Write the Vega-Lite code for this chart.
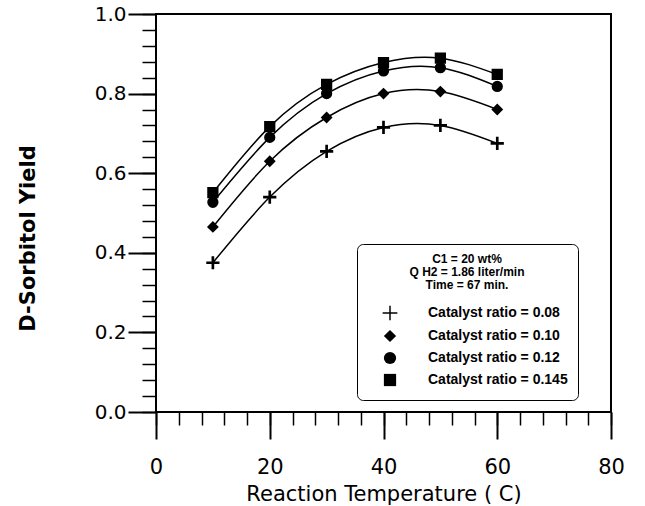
{
  "$schema": "https://vega.github.io/schema/vega-lite/v6.json",
  "width": 455,
  "height": 398,
  "autosize": "none",
  "padding": {"left": 156, "top": 14, "right": 34, "bottom": 94},
  "background": "white",
  "config": {
    "view": {"stroke": "black", "strokeWidth": 2},
    "axis": {"grid": false, "domain": false, "tickColor": "black", "labelColor": "black", "titleColor": "black", "labelFlush": false, "labelOverlap": false}
  },
  "data": {
    "values": [
      {"series": "Catalyst ratio = 0.08", "temp": 10, "yield": 0.375},
      {"series": "Catalyst ratio = 0.08", "temp": 20, "yield": 0.54},
      {"series": "Catalyst ratio = 0.08", "temp": 30, "yield": 0.655},
      {"series": "Catalyst ratio = 0.08", "temp": 40, "yield": 0.715},
      {"series": "Catalyst ratio = 0.08", "temp": 50, "yield": 0.72},
      {"series": "Catalyst ratio = 0.08", "temp": 60, "yield": 0.675},
      {"series": "Catalyst ratio = 0.10", "temp": 10, "yield": 0.465},
      {"series": "Catalyst ratio = 0.10", "temp": 20, "yield": 0.63},
      {"series": "Catalyst ratio = 0.10", "temp": 30, "yield": 0.74},
      {"series": "Catalyst ratio = 0.10", "temp": 40, "yield": 0.80},
      {"series": "Catalyst ratio = 0.10", "temp": 50, "yield": 0.805},
      {"series": "Catalyst ratio = 0.10", "temp": 60, "yield": 0.76},
      {"series": "Catalyst ratio = 0.12", "temp": 10, "yield": 0.527},
      {"series": "Catalyst ratio = 0.12", "temp": 20, "yield": 0.69},
      {"series": "Catalyst ratio = 0.12", "temp": 30, "yield": 0.80},
      {"series": "Catalyst ratio = 0.12", "temp": 40, "yield": 0.857},
      {"series": "Catalyst ratio = 0.12", "temp": 50, "yield": 0.865},
      {"series": "Catalyst ratio = 0.12", "temp": 60, "yield": 0.818},
      {"series": "Catalyst ratio = 0.145", "temp": 10, "yield": 0.551},
      {"series": "Catalyst ratio = 0.145", "temp": 20, "yield": 0.717},
      {"series": "Catalyst ratio = 0.145", "temp": 30, "yield": 0.823},
      {"series": "Catalyst ratio = 0.145", "temp": 40, "yield": 0.878},
      {"series": "Catalyst ratio = 0.145", "temp": 50, "yield": 0.889},
      {"series": "Catalyst ratio = 0.145", "temp": 60, "yield": 0.848}
    ]
  },
  "layer": [
    {
      "mark": {"type": "line", "interpolate": "natural", "color": "black", "strokeWidth": 1.5},
      "encoding": {
        "x": {
          "field": "temp", "type": "quantitative",
          "scale": {"domain": [0, 80], "nice": false, "zero": false},
          "axis": {
            "orient": "bottom", "values": [0, 20, 40, 60, 80], "tickSize": 27, "tickWidth": 2,
            "labelPadding": 17, "labelFont": "DejaVu Sans", "labelFontSize": 21,
            "title": "Reaction Temperature ( C)", "titleFont": "DejaVu Sans", "titleFontSize": 21,
            "titleFontWeight": "normal", "titleBaseline": "alphabetic", "titleY": 88
          }
        },
        "y": {
          "field": "yield", "type": "quantitative",
          "scale": {"domain": [0, 1], "nice": false, "zero": false},
          "axis": {
            "orient": "left", "values": [0, 0.2, 0.4, 0.6, 0.8, 1.0], "format": ".1f",
            "tickSize": 28, "tickWidth": 2, "labelPadding": 2, "labelFont": "DejaVu Sans", "labelFontSize": 20,
            "title": "D-Sorbitol Yield", "titleFont": "DejaVu Sans", "titleFontSize": 21, "titleFontWeight": "bold",
            "titleBaseline": "alphabetic", "titleX": -122, "titleY": 224
          }
        },
        "detail": {"field": "series"}
      }
    },
    {
      "mark": {"type": "point", "filled": true, "fill": "black", "stroke": "black", "strokeWidth": 1.5, "opacity": 1, "size": 95},
      "encoding": {
        "x": {
          "field": "temp", "type": "quantitative",
          "scale": {"domain": [0, 80], "nice": false, "zero": false},
          "axis": {
            "orient": "bottom", "values": [0, 4, 8, 12, 16, 20, 24, 28, 32, 36, 40, 44, 48, 52, 56, 60, 64, 68, 72, 76, 80],
            "tickSize": 13, "tickWidth": 1.5, "labels": false, "title": null
          }
        },
        "y": {
          "field": "yield", "type": "quantitative",
          "scale": {"domain": [0, 1], "nice": false, "zero": false},
          "axis": {
            "orient": "left", "values": [0, 0.04, 0.08, 0.12, 0.16, 0.2, 0.24, 0.28, 0.32, 0.36, 0.4, 0.44, 0.48, 0.52, 0.56, 0.6, 0.64, 0.68, 0.72, 0.76, 0.8, 0.84, 0.88, 0.92, 0.96, 1.0],
            "tickSize": 14, "tickWidth": 1.5, "labels": false, "title": null
          }
        },
        "shape": {
          "field": "series", "type": "nominal",
          "scale": {
            "domain": ["Catalyst ratio = 0.08", "Catalyst ratio = 0.10", "Catalyst ratio = 0.12", "Catalyst ratio = 0.145"],
            "range": ["M-1.2,-0.12H-0.12V-1.2H0.12V-0.12H1.2V0.12H0.12V1.2H-0.12V0.12H-1.2Z", "diamond", "circle", "square"]
          },
          "legend": {
            "title": ["C1 = 20 wt%", "Q H2 = 1.86 liter/min", "Time = 67 min."],
            "orient": "none", "legendX": 201, "legendY": 230,
            "titleFont": "Liberation Sans", "titleFontWeight": "bold", "titleFontSize": 12,
            "titleAnchor": "middle", "titleAlign": "center", "titleLineHeight": 13, "titlePadding": 14,
            "titleColor": "black", "titleLimit": 300,
            "labelFont": "Liberation Sans", "labelFontWeight": "bold", "labelFontSize": 14, "labelColor": "black",
            "labelOffset": 31, "labelLimit": 300,
            "symbolSize": 150, "symbolFillColor": "black", "symbolStrokeColor": "black",
            "symbolOffset": 16,
            "rowPadding": 2, "padding": 10,
            "strokeColor": "black", "fillColor": "white", "cornerRadius": 6,
            "encode": {
              "legend": {"update": {"strokeWidth": {"value": 1.5}}},
              "symbols": {"update": {"stroke": {"value": "black"}, "fill": {"value": "black"}, "strokeWidth": {"value": 1.5}, "opacity": {"value": 1}}}
            }
          }
        }
      }
    }
  ],
  "resolve": {"axis": {"x": "independent", "y": "independent"}}
}
